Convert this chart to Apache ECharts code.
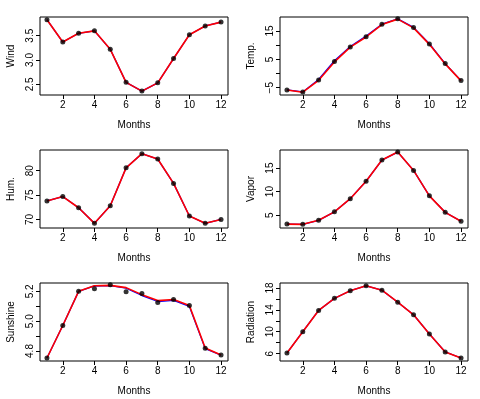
<!DOCTYPE html>
<html><head><meta charset="utf-8">
<script src="https://cdn.jsdelivr.net/npm/echarts@6/dist/echarts.min.js"></script>
<style>html,body{margin:0;padding:0;background:#fff}#c{width:480px;height:399px}</style>
</head><body><div id="c"></div>
<script>
// ---- data ----
const months = [1,2,3,4,5,6,7,8,9,10,11,12];
const monthTicks = [2,4,6,8,10,12];

const windPts  = [3.83,3.37,3.55,3.60,3.22,2.54,2.36,2.53,3.03,3.52,3.70,3.78];
const windBlue = windPts;
const windRed  = windPts;

const tempPts  = [-5.8,-6.5,-2.3,4.2,9.4,13.0,17.4,19.3,16.2,10.4,3.5,-2.5];
const tempBlue = [-5.8,-6.5,-2.1,4.5,9.5,13.2,17.4,19.3,16.3,10.5,3.5,-2.5];
const tempRed  = [-5.8,-6.6,-2.4,4.1,9.3,12.9,17.3,19.2,16.1,10.3,3.4,-2.6];

const humPts  = [73.8,74.7,72.4,69.2,72.8,80.6,83.5,82.4,77.4,70.7,69.2,70.0];
const humBlue = humPts;
const humRed  = humPts;

const vaporPts  = [3.1,3.05,3.9,5.7,8.5,12.2,16.7,18.4,14.5,9.1,5.6,3.7];
const vaporBlue = vaporPts;
const vaporRed  = vaporPts;

const sunPts  = [4.753,4.971,5.200,5.218,5.245,5.198,5.185,5.125,5.145,5.105,4.818,4.773];
const sunBlue = [4.753,4.971,5.200,5.236,5.238,5.221,5.172,5.132,5.140,5.099,4.816,4.773];
const sunRed  = [4.753,4.971,5.200,5.238,5.240,5.225,5.178,5.138,5.145,5.105,4.820,4.773];

const radPts  = [6.1,10.0,13.9,16.1,17.5,18.4,17.6,15.4,13.1,9.6,6.3,5.2];
const radBlue = radPts;
const radRed  = radPts;

// tick values and labels
const windTicks = [2.5,3.0,3.5],          windLabels = [2.5,3.0,3.5];
const tempTicks = [-5,0,5,10,15],         tempLabels = [-5,5,15];
const humTicks  = [70,75,80],             humLabels  = [70,75,80];
const vaporTicks= [5,10,15],              vaporLabels= [5,10,15];
const sunTicks  = [4.8,4.9,5.0,5.1,5.2],  sunLabels  = [4.8,5.0,5.2];
const radTicks  = [6,8,10,12,14,16,18],   radLabels  = [6,10,14,18];

const panels = [
  {name:'Wind',      pts:windPts,  blue:windBlue,  red:windRed,  ticks:windTicks,  labels:windLabels,  dec:1, min:2.28,  max:3.885},
  {name:'Temp.',     pts:tempPts,  blue:tempBlue,  red:tempRed,  ticks:tempTicks,  labels:tempLabels,  dec:0, min:-7.58, max:19.95},
  {name:'Hum.',      pts:humPts,   blue:humBlue,   red:humRed,   ticks:humTicks,   labels:humLabels,   dec:0, min:68.24, max:84.26},
  {name:'Vapor',     pts:vaporPts, blue:vaporBlue, red:vaporRed, ticks:vaporTicks, labels:vaporLabels, dec:0, min:2.27,  max:18.84},
  {name:'Sunshine',  pts:sunPts,   blue:sunBlue,   red:sunRed,   ticks:sunTicks,   labels:sunLabels,   dec:1, min:4.733, max:5.256},
  {name:'Radiation', pts:radPts,   blue:radBlue,   red:radRed,   ticks:radTicks,   labels:radLabels,   dec:0, min:4.65,  max:18.91}
];

// ---- layout ----
const FONT = '"Liberation Sans", Arial, Helvetica, sans-serif';
const colLeft = [40, 280], rowTop = [17, 150, 283];
const gw = 188, gh = 78;
const grids = [], xAxes = [], yAxes = [], series = [];
const txt = {color:'#000', fontFamily:FONT, fontSize:10};

panels.forEach((p, i) => {
  const col = i % 2, row = Math.floor(i / 2);
  grids.push({left: colLeft[col], top: rowTop[row], width: gw, height: gh,
    show: true, borderColor: '#000', borderWidth: 1, backgroundColor: 'transparent', containLabel: false});
  xAxes.push({type:'value', gridIndex:i, min:0.56, max:12.44, position:'bottom',
    name:'Months', nameLocation:'middle', nameGap:25, nameTextStyle:txt,
    axisLine:{show:false, onZero:false}, splitLine:{show:false},
    axisTick:{show:true, inside:false, length:4, lineStyle:{color:'#000', width:1}, customValues: monthTicks},
    axisLabel:{show:true, margin:5, ...txt, customValues: monthTicks, formatter: v => String(v)}
  });
  yAxes.push({type:'value', gridIndex:i, min:p.min, max:p.max, position:'left',
    name:p.name, nameLocation:'middle', nameGap:24, nameTextStyle:txt,
    axisLine:{show:false, onZero:false}, splitLine:{show:false},
    axisTick:{show:true, inside:false, length:4, lineStyle:{color:'#000', width:1}, customValues: p.ticks},
    axisLabel:{show:true, margin:5, rotate:90, ...txt, customValues: p.labels,
      formatter: v => Number(v).toFixed(p.dec).replace('-', '\u2212')}
  });
  const pair = arr => months.map((m, k) => [m, arr[k]]);
  series.push({type:'line', xAxisIndex:i, yAxisIndex:i, data:pair(p.blue), symbol:'none',
    lineStyle:{color:'#0000ff', width:1.3}, animation:false, silent:true, z:2});
  series.push({type:'line', xAxisIndex:i, yAxisIndex:i, data:pair(p.red), symbol:'none',
    lineStyle:{color:'#ff0000', width:1.6}, animation:false, silent:true, z:3});
  series.push({type:'scatter', xAxisIndex:i, yAxisIndex:i, data:pair(p.pts), symbol:'circle', symbolSize:5,
    itemStyle:{color:'#000'}, animation:false, silent:true, z:4});
});

const chart = echarts.init(document.getElementById('c'), null, {renderer:'canvas'});
chart.setOption({animation:false, backgroundColor:'#fff', grid:grids, xAxis:xAxes, yAxis:yAxes, series:series});
</script>
</body></html>
